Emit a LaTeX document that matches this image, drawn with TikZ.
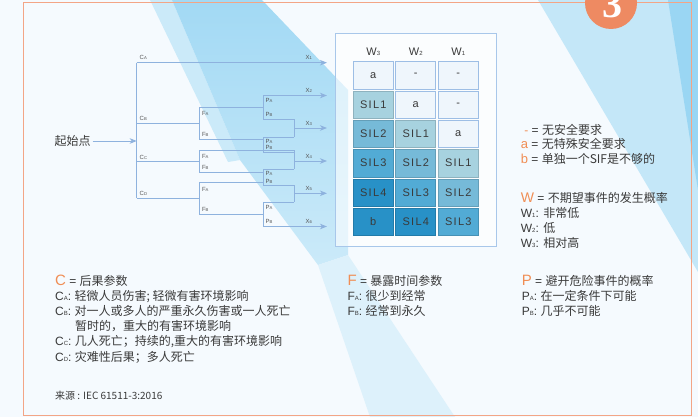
\documentclass[tikz,border=0pt]{standalone}
\usepackage{fontspec}
\setmainfont{Noto Sans CJK SC}
\newfontfamily\latin{Liberation Sans}
\newfontfamily\cellfont[LetterSpace=12]{Liberation Sans}
\newfontfamily\numfont{Liberation Serif}
\usetikzlibrary{arrows.meta}
\definecolor{bgbase}{HTML}{F5FAFE}
\definecolor{bandmid}{HTML}{A2D9F4}
\definecolor{bandlight}{HTML}{CBEAF9}
\definecolor{bandpale}{HTML}{DDF1FB}
\definecolor{bandRa}{HTML}{C4E7F8}
\definecolor{bandRb}{HTML}{9AD6F3}
\definecolor{treeline}{HTML}{8EB2DE}
\definecolor{orangeT}{HTML}{F08E55}
\definecolor{frameO}{HTML}{F3A586}
\definecolor{circO}{HTML}{EE8A62}
\definecolor{txt}{HTML}{3A3A3A}
\definecolor{labgray}{HTML}{555555}
\definecolor{cellW}{HTML}{EFF6FC}
\definecolor{cellB}{HTML}{9DBEE5}
\definecolor{boxB}{HTML}{A8C7EA}
\definecolor{silA}{HTML}{A7D2DF}
\definecolor{silB}{HTML}{76BAD8}
\definecolor{silC}{HTML}{52ABD5}
\definecolor{silD}{HTML}{2891C7}
\newcommand{\tsub}[2]{#1{\fontsize{4.2}{5}\selectfont #2}}
\newcommand{\lsub}[2]{{\latin #1{\fontsize{6}{7}\selectfont #2}: }}
\begin{document}
\begin{tikzpicture}[x=1pt,y=-1pt,
  tline/.style={draw=treeline, line width=0.9pt},
  tarrow/.style={draw=treeline, line width=0.9pt, -{Stealth[length=7pt,width=5.5pt,inset=2pt,fill=treeline]}},
  tlab/.style={anchor=base west, inner sep=0pt, font=\latin\fontsize{6}{7}\selectfont, text=labgray},
  leg/.style={anchor=base west, inner sep=0pt, font=\fontsize{12}{14}\selectfont, text=txt},
  cell/.style={minimum width=40pt, minimum height=27.3pt, inner sep=0pt, line width=0.7pt, font=\cellfont\fontsize{11}{13}\selectfont, text=txt},
  hdr/.style={inner sep=0pt, font=\latin\fontsize{11}{13}\selectfont, text=txt}]
\useasboundingbox (0,0) rectangle (698,417);
\begin{scope}
\clip (0,0) rectangle (698,417);
% background
\fill[bgbase] (0,0) rectangle (698,417);
\fill[bandlight] (150,0) -- (172,0) -- (240,160) -- (228,162) -- cycle;
\shade[top color=bandmid, bottom color=bandlight] (172,0) -- (262,0) -- (348,90) -- (348,255) -- (318,265) -- (240,160) -- cycle;
\fill[bandpale] (318,265) -- (348,255) -- (455,417) -- (370,417) -- cycle;
\fill[bandRa] (538,0) -- (698,0) -- (698,272) -- cycle;
\fill[bandRb] (668,0) -- (698,0) -- (698,190) -- cycle;
% frame
\draw[frameO, line width=0.9pt] (23,2.5) rectangle (691,415.8);
% badge
\node[circle, fill=circO, minimum size=52pt, inner sep=0pt] (badge) at (611,3) {};
\node[anchor=base, inner sep=0pt, text=white, font=\numfont\bfseries\fontsize{40}{40}\selectfont] (badgenum) at (612.5,17.5) {3};

% ---------- tree coordinates ----------
\coordinate (cA) at (136.7,62.7);
\coordinate (cB) at (136.7,123.3);
\coordinate (cS) at (136.7,141);
\coordinate (cC) at (136.7,161.7);
\coordinate (cD) at (136.7,198.3);
\coordinate (fB) at (199.3,123.3);
\coordinate (fBa) at (199.3,107.3);
\coordinate (fBb) at (199.3,139.3);
\coordinate (fC) at (199.3,161.7);
\coordinate (fCa) at (199.3,150.3);
\coordinate (fCb) at (199.3,172.7);
\coordinate (fD) at (199.3,198.3);
\coordinate (fDa) at (199.3,182.3);
\coordinate (fDb) at (199.3,214);
\coordinate (pBa) at (263,107.3);
\coordinate (pBaA) at (263,95.5);
\coordinate (pBaB) at (263,119.3);
\coordinate (pBb) at (263,139.3);
\coordinate (pBbA) at (263,137);
\coordinate (pBbB) at (263,152.7);
\coordinate (pCb) at (263,172.7);
\coordinate (pCbA) at (263,169);
\coordinate (pCbB) at (263,185);
\coordinate (pDa) at (263,182.3);
\coordinate (pDb) at (263,214);
\coordinate (pDbA) at (263,202);
\coordinate (pDbB) at (263,226.5);
\coordinate (b3t) at (294,119.3);
\coordinate (b3m) at (294,128);
\coordinate (b3b) at (294,137);
\coordinate (b4t) at (294,150.3);
\coordinate (b4u) at (294,152.7);
\coordinate (b4m) at (294,161);
\coordinate (b4b) at (294,169);
\coordinate (b5t) at (294,185);
\coordinate (b5m) at (294,193.3);
\coordinate (b5b) at (294,202);
\coordinate (e1) at (327,62.7);
\coordinate (e2) at (327,95.5);
\coordinate (e3) at (327,128);
\coordinate (e4) at (327,161);
\coordinate (e5) at (327,193.3);
\coordinate (e6) at (327,226.5);

% start
\node[inner sep=2pt, font=\fontsize{12}{14}\selectfont, text=txt] (start) at (72.5,141) {起始点};
\draw[tarrow] (start.east) -- (cS);
% C level
\draw[tline] (cA) -- (cD);
\draw[tarrow] (cA) -- (e1);
\draw[tline] (cB) -- (fB);
\draw[tline] (cC) -- (fC);
\draw[tline] (cD) -- (fD);
% F level
\draw[tline] (fBa) -- (fBb);
\draw[tline] (fCa) -- (fCb);
\draw[tline] (fDa) -- (fDb);
\draw[tline] (fBa) -- (pBa);
\draw[tline] (fBb) -- (pBb);
\draw[tline] (fCa) -- (b4t);
\draw[tline] (fCb) -- (pCb);
\draw[tline] (fDa) -- (pDa);
\draw[tline] (fDb) -- (pDb);
% P level
\draw[tline] (pBaA) -- (pBaB);
\draw[tline] (pBbA) -- (pBbB);
\draw[tline] (pCbA) -- (pCbB);
\draw[tline] (pDbA) -- (pDbB);
\draw[tarrow] (pBaA) -- (e2);
\draw[tline] (pBaB) -- (b3t);
\draw[tline] (pBbA) -- (b3b);
\draw[tline] (pBbB) -- (b4u);
\draw[tline] (pCbA) -- (b4b);
\draw[tline] (pCbB) -- (b5t);
\draw[tline] (pDbA) -- (b5b);
\draw[tarrow] (pDbB) -- (e6);
% brackets
\draw[tline] (b3t) -- (b3b);
\draw[tline] (b4t) -- (b4b);
\draw[tline] (b5t) -- (b5b);
\draw[tarrow] (b3m) -- (e3);
\draw[tarrow] (b4m) -- (e4);
\draw[tarrow] (b5m) -- (e5);

% tree labels
\node[tlab] (lCA) at (139.5,59.5) {\tsub{C}{A}};
\node[tlab] (lCB) at (139.5,120.5) {\tsub{C}{B}};
\node[tlab] (lCC) at (139.5,159) {\tsub{C}{C}};
\node[tlab] (lCD) at (139.5,195.5) {\tsub{C}{D}};
\node[tlab] (lF1) at (201.8,115.2) {\tsub{F}{A}};
\node[tlab] (lF2) at (201.8,136.5) {\tsub{F}{B}};
\node[tlab] (lF3) at (201.8,158.2) {\tsub{F}{A}};
\node[tlab] (lF4) at (201.8,169.5) {\tsub{F}{B}};
\node[tlab] (lF5) at (201.8,191) {\tsub{F}{A}};
\node[tlab] (lF6) at (201.8,211.5) {\tsub{F}{B}};
\node[tlab] (lP1) at (265.5,102.5) {\tsub{P}{A}};
\node[tlab] (lP2) at (265.5,116.5) {\tsub{P}{B}};
\node[tlab] (lP3) at (265.5,143.9) {\tsub{P}{A}};
\node[tlab] (lP4) at (265.5,149.9) {\tsub{P}{B}};
\node[tlab] (lP5) at (265.5,175.5) {\tsub{P}{A}};
\node[tlab] (lP6) at (265.5,183.2) {\tsub{P}{B}};
\node[tlab] (lP7) at (265.5,209.5) {\tsub{P}{A}};
\node[tlab] (lP8) at (265.5,223.2) {\tsub{P}{B}};
\node[tlab] (lX1) at (305.5,59.5) {\tsub{X}{1}};
\node[tlab] (lX2) at (305.5,92.2) {\tsub{X}{2}};
\node[tlab] (lX3) at (305.5,125.5) {\tsub{X}{3}};
\node[tlab] (lX4) at (305.5,158.2) {\tsub{X}{4}};
\node[tlab] (lX5) at (305.5,190.5) {\tsub{X}{5}};
\node[tlab] (lX6) at (305.5,223.5) {\tsub{X}{6}};

% table
\node[draw=boxB, line width=0.9pt, fill=white, fill opacity=0.6, minimum width=160.3pt, minimum height=213.4pt, inner sep=0pt] (tablebox) at (415.85,140) {};
\node[hdr] (w3) at (373.3,51.5) {W{\fontsize{6}{7}\selectfont 3}};
\node[hdr] (w2) at (415.8,51.5) {W{\fontsize{6}{7}\selectfont 2}};
\node[hdr] (w1) at (458.3,51.5) {W{\fontsize{6}{7}\selectfont 1}};
\foreach \r/\c/\t/\f/\d in {
  1/1/a/cellW/cellB, 1/2/-/cellW/cellB, 1/3/-/cellW/cellB,
  2/1/SIL1/silA/silA!85!black, 2/2/a/cellW/cellB, 2/3/-/cellW/cellB,
  3/1/SIL2/silB/silB!85!black, 3/2/SIL1/silA/silA!85!black, 3/3/a/cellW/cellB,
  4/1/SIL3/silC/silC!85!black, 4/2/SIL2/silB/silB!85!black, 4/3/SIL1/silA/silA!85!black,
  5/1/SIL4/silD/silD!85!black, 5/2/SIL3/silC/silC!85!black, 5/3/SIL2/silB/silB!85!black,
  6/1/b/silD/silD!85!black, 6/2/SIL4/silD/silD!85!black, 6/3/SIL3/silC/silC!85!black}
  \node[cell, fill=\f, draw=\d] (cell\r\c) at ({373.3+42.5*(\c-1)},{75.3+29.3*(\r-1)}) {\t};

% right legend
\node[leg] (lg1) at (520.7,134.5) {{\latin\hspace{3.5pt}{\color{orangeT}-} = }无安全要求};
\node[leg] (lg2) at (520.7,148.8) {{\latin{\color{orangeT}\fontsize{13}{14}\selectfont a} = }无特殊安全要求};
\node[leg] (lg3) at (520.7,163.8) {{\latin{\color{orangeT}\fontsize{13}{14}\selectfont b} = }单独一个SIF是不够的};
\node[leg] (lg4) at (520.7,202.8) {{\latin{\color{orangeT}\fontsize{14}{16}\selectfont W} = }不期望事件的发生概率};
\node[leg] (lg5) at (520.7,217.8) {\lsub{W}{1}非常低};
\node[leg] (lg6) at (520.7,232.2) {\lsub{W}{2}低};
\node[leg] (lg7) at (520.7,247.8) {\lsub{W}{3}相对高};

% bottom legend C
\node[leg] (lc0) at (55,285.2) {{\latin{\color{orangeT}\fontsize{15}{17}\selectfont C} = }后果参数};
\node[leg] (lc1) at (55,300.5) {\lsub{C}{A}轻微人员伤害; 轻微有害环境影响};
\node[leg] (lc2) at (55,315.5) {\lsub{C}{B}对一人或多人的严重永久伤害或一人死亡};
\node[leg] (lc3) at (75,330.5) {暂时的，重大的有害环境影响};
\node[leg] (lc4) at (55,345.5) {\lsub{C}{C}几人死亡；持续的,重大的有害环境影响};
\node[leg] (lc5) at (55,361.2) {\lsub{C}{D}灾难性后果；多人死亡};
\node[leg, font=\fontsize{10}{12}\selectfont] (src) at (55,399.8) {来源 : IEC 61511-3:2016};

% F legend
\node[leg] (lf0) at (347.3,285.5) {{\latin{\color{orangeT}\fontsize{15}{17}\selectfont F} = }暴露时间参数};
\node[leg] (lf1) at (347.3,300.5) {\lsub{F}{A}很少到经常};
\node[leg] (lf2) at (347.3,315.5) {\lsub{F}{B}经常到永久};

% P legend
\node[leg] (lp0) at (521.7,285.5) {{\latin{\color{orangeT}\fontsize{15}{17}\selectfont P} = }避开危险事件的概率};
\node[leg] (lp1) at (521.7,300.5) {\lsub{P}{A}在一定条件下可能};
\node[leg] (lp2) at (521.7,315.5) {\lsub{P}{B}几乎不可能};
\end{scope}
\end{tikzpicture}
\end{document}
